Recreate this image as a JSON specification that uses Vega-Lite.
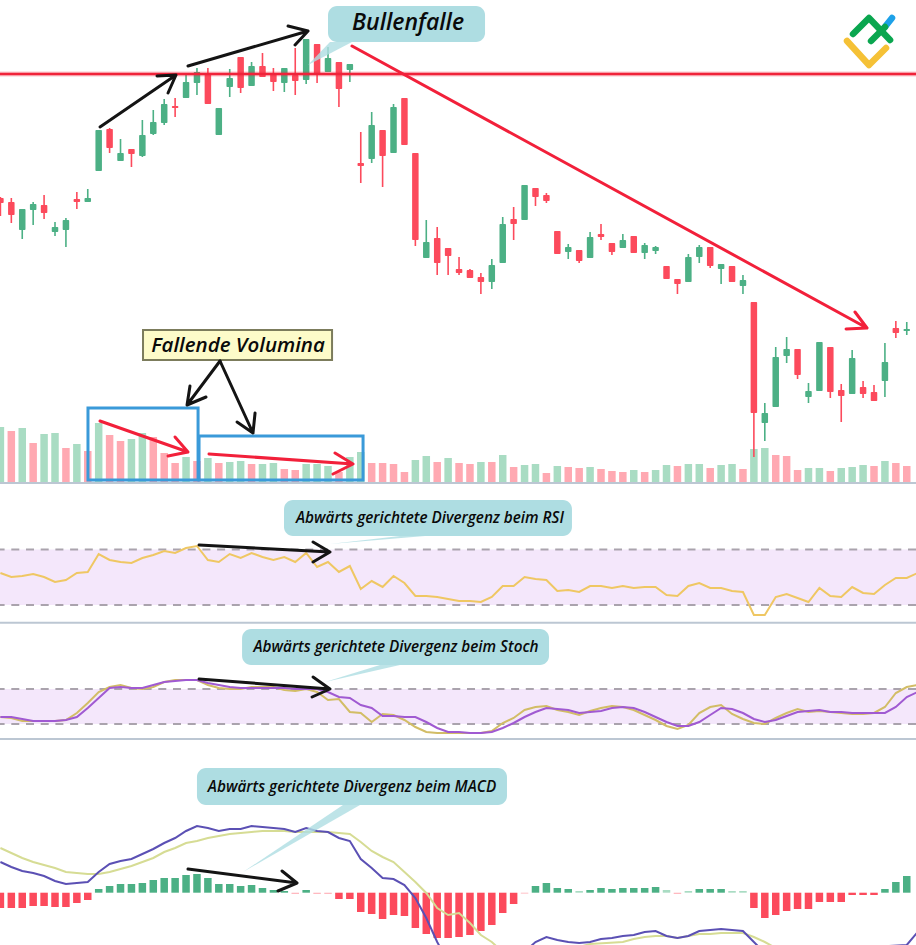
{
  "$schema": "https://vega.github.io/schema/vega-lite/v6.json",
  "width": 916,
  "height": 945,
  "padding": 0,
  "autosize": "none",
  "background": "white",
  "config": {"view": {"stroke": null}},
  "datasets": {
    "candles": [
      {"d":0,"dir":"down","hi":197,"lo":216,"top":198,"bot":203},{"d":1,"dir":"down","hi":198,"lo":223,"top":202,"bot":215},{"d":2,"dir":"up","hi":209,"lo":239,"top":209,"bot":230},{"d":3,"dir":"up","hi":202,"lo":225,"top":204,"bot":210},{"d":4,"dir":"down","hi":195,"lo":219,"top":205,"bot":213},{"d":5,"dir":"up","hi":222,"lo":236,"top":227,"bot":232},{"d":6,"dir":"up","hi":218,"lo":247,"top":220,"bot":230},{"d":7,"dir":"down","hi":192,"lo":209,"top":199,"bot":202},{"d":8,"dir":"up","hi":189,"lo":202,"top":198,"bot":202},{"d":9,"dir":"up","hi":130,"lo":171,"top":130,"bot":171},
      {"d":10,"dir":"down","hi":128,"lo":153,"top":129,"bot":148},{"d":11,"dir":"up","hi":139,"lo":161,"top":153,"bot":161},{"d":12,"dir":"down","hi":149,"lo":167,"top":149,"bot":154},{"d":13,"dir":"up","hi":120,"lo":157,"top":135,"bot":156},{"d":14,"dir":"up","hi":110,"lo":135,"top":122,"bot":134},{"d":15,"dir":"up","hi":99,"lo":125,"top":104,"bot":123},{"d":16,"dir":"down","hi":98,"lo":117,"top":106,"bot":108},{"d":17,"dir":"up","hi":75,"lo":98,"top":82,"bot":98},{"d":18,"dir":"up","hi":68,"lo":95,"top":72,"bot":83},{"d":19,"dir":"down","hi":68,"lo":104,"top":73,"bot":104},
      {"d":20,"dir":"up","hi":108,"lo":135,"top":108,"bot":135},{"d":21,"dir":"up","hi":69,"lo":97,"top":78,"bot":87},{"d":22,"dir":"down","hi":57,"lo":93,"top":57,"bot":88},{"d":23,"dir":"up","hi":62,"lo":86,"top":66,"bot":86},{"d":24,"dir":"down","hi":53,"lo":77,"top":66,"bot":77},{"d":25,"dir":"down","hi":68,"lo":91,"top":74,"bot":82},{"d":26,"dir":"up","hi":68,"lo":92,"top":68,"bot":83},{"d":27,"dir":"down","hi":48,"lo":95,"top":75,"bot":81},{"d":28,"dir":"up","hi":39,"lo":84,"top":39,"bot":80},{"d":29,"dir":"down","hi":44,"lo":83,"top":44,"bot":75},
      {"d":30,"dir":"up","hi":47,"lo":72,"top":58,"bot":72},{"d":31,"dir":"down","hi":62,"lo":107,"top":62,"bot":89},{"d":32,"dir":"up","hi":64,"lo":82,"top":64,"bot":70},{"d":33,"dir":"down","hi":132,"lo":183,"top":163,"bot":166},{"d":34,"dir":"up","hi":112,"lo":163,"top":125,"bot":159},{"d":35,"dir":"down","hi":130,"lo":187,"top":130,"bot":156},{"d":36,"dir":"up","hi":104,"lo":153,"top":107,"bot":153},{"d":37,"dir":"down","hi":98,"lo":145,"top":98,"bot":145},{"d":38,"dir":"down","hi":153,"lo":246,"top":153,"bot":240},{"d":39,"dir":"up","hi":220,"lo":258,"top":242,"bot":258},
      {"d":40,"dir":"down","hi":227,"lo":275,"top":238,"bot":263},{"d":41,"dir":"down","hi":248,"lo":275,"top":248,"bot":256},{"d":42,"dir":"down","hi":257,"lo":275,"top":269,"bot":273},{"d":43,"dir":"down","hi":269,"lo":278,"top":270,"bot":278},{"d":44,"dir":"down","hi":273,"lo":294,"top":277,"bot":282},{"d":45,"dir":"up","hi":259,"lo":289,"top":265,"bot":282},{"d":46,"dir":"up","hi":217,"lo":263,"top":224,"bot":263},{"d":47,"dir":"down","hi":207,"lo":240,"top":219,"bot":224},{"d":48,"dir":"up","hi":185,"lo":220,"top":185,"bot":220},{"d":49,"dir":"down","hi":188,"lo":206,"top":188,"bot":197},
      {"d":50,"dir":"down","hi":193,"lo":203,"top":195,"bot":201},{"d":51,"dir":"down","hi":231,"lo":254,"top":231,"bot":254},{"d":52,"dir":"up","hi":244,"lo":259,"top":247,"bot":252},{"d":53,"dir":"down","hi":250,"lo":263,"top":250,"bot":261},{"d":54,"dir":"up","hi":232,"lo":258,"top":237,"bot":258},{"d":55,"dir":"down","hi":224,"lo":240,"top":234,"bot":237},{"d":56,"dir":"down","hi":243,"lo":255,"top":243,"bot":252},{"d":57,"dir":"up","hi":234,"lo":248,"top":240,"bot":248},{"d":58,"dir":"down","hi":236,"lo":253,"top":236,"bot":253},{"d":59,"dir":"up","hi":243,"lo":259,"top":245,"bot":253},
      {"d":60,"dir":"up","hi":246,"lo":254,"top":247,"bot":251},{"d":61,"dir":"down","hi":266,"lo":279,"top":266,"bot":279},{"d":62,"dir":"down","hi":279,"lo":294,"top":279,"bot":284},{"d":63,"dir":"up","hi":254,"lo":282,"top":257,"bot":282},{"d":64,"dir":"up","hi":245,"lo":263,"top":247,"bot":257},{"d":65,"dir":"down","hi":247,"lo":268,"top":247,"bot":266},{"d":66,"dir":"up","hi":264,"lo":284,"top":264,"bot":269},{"d":67,"dir":"down","hi":266,"lo":282,"top":266,"bot":282},{"d":68,"dir":"up","hi":275,"lo":294,"top":280,"bot":286},{"d":69,"dir":"down","hi":302,"lo":457,"top":302,"bot":413},
      {"d":70,"dir":"up","hi":403,"lo":441,"top":413,"bot":423},{"d":71,"dir":"up","hi":347,"lo":407,"top":357,"bot":407},{"d":72,"dir":"up","hi":337,"lo":363,"top":349,"bot":356},{"d":73,"dir":"down","hi":349,"lo":379,"top":349,"bot":375},{"d":74,"dir":"up","hi":383,"lo":403,"top":391,"bot":397},{"d":75,"dir":"up","hi":342,"lo":391,"top":342,"bot":391},{"d":76,"dir":"down","hi":347,"lo":398,"top":347,"bot":392},{"d":77,"dir":"down","hi":384,"lo":422,"top":390,"bot":396},{"d":78,"dir":"up","hi":350,"lo":394,"top":358,"bot":394},{"d":79,"dir":"down","hi":381,"lo":398,"top":387,"bot":394},
      {"d":80,"dir":"down","hi":385,"lo":401,"top":392,"bot":401},{"d":81,"dir":"up","hi":343,"lo":397,"top":362,"bot":381},{"d":82,"dir":"down","hi":321,"lo":338,"top":328,"bot":333},{"d":83,"dir":"up","hi":322,"lo":335,"top":329,"bot":331}
    ],
    "volume": [
      {"d":0,"v":427,"dir":"volUp"},{"d":1,"v":431,"dir":"volDown"},{"d":2,"v":428,"dir":"volUp"},{"d":3,"v":443,"dir":"volDown"},{"d":4,"v":434,"dir":"volUp"},{"d":5,"v":433,"dir":"volUp"},{"d":6,"v":448,"dir":"volDown"},{"d":7,"v":444,"dir":"volUp"},{"d":8,"v":451,"dir":"volDown"},{"d":9,"v":423,"dir":"volUp"},
      {"d":10,"v":435,"dir":"volDown"},{"d":11,"v":441,"dir":"volDown"},{"d":12,"v":439,"dir":"volUp"},{"d":13,"v":433,"dir":"volUp"},{"d":14,"v":437,"dir":"volDown"},{"d":15,"v":453,"dir":"volDown"},{"d":16,"v":463,"dir":"volDown"},{"d":17,"v":457,"dir":"volUp"},{"d":18,"v":461,"dir":"volDown"},{"d":19,"v":458,"dir":"volUp"},
      {"d":20,"v":463,"dir":"volDown"},{"d":21,"v":462,"dir":"volUp"},{"d":22,"v":461,"dir":"volUp"},{"d":23,"v":464,"dir":"volDown"},{"d":24,"v":464,"dir":"volUp"},{"d":25,"v":463,"dir":"volUp"},{"d":26,"v":469,"dir":"volDown"},{"d":27,"v":470,"dir":"volDown"},{"d":28,"v":464,"dir":"volUp"},{"d":29,"v":464,"dir":"volUp"},
      {"d":30,"v":466,"dir":"volUp"},{"d":31,"v":472,"dir":"volDown"},{"d":32,"v":457,"dir":"volUp"},{"d":33,"v":452,"dir":"volUp"},{"d":34,"v":463,"dir":"volDown"},{"d":35,"v":463,"dir":"volDown"},{"d":36,"v":464,"dir":"volDown"},{"d":37,"v":472,"dir":"volDown"},{"d":38,"v":460,"dir":"volUp"},{"d":39,"v":456,"dir":"volUp"},
      {"d":40,"v":462,"dir":"volDown"},{"d":41,"v":458,"dir":"volUp"},{"d":42,"v":463,"dir":"volDown"},{"d":43,"v":464,"dir":"volDown"},{"d":44,"v":462,"dir":"volUp"},{"d":45,"v":462,"dir":"volDown"},{"d":46,"v":455,"dir":"volUp"},{"d":47,"v":467,"dir":"volDown"},{"d":48,"v":465,"dir":"volUp"},{"d":49,"v":464,"dir":"volUp"},
      {"d":50,"v":473,"dir":"volDown"},{"d":51,"v":466,"dir":"volUp"},{"d":52,"v":467,"dir":"volDown"},{"d":53,"v":468,"dir":"volDown"},{"d":54,"v":467,"dir":"volUp"},{"d":55,"v":469,"dir":"volDown"},{"d":56,"v":471,"dir":"volDown"},{"d":57,"v":472,"dir":"volDown"},{"d":58,"v":470,"dir":"volUp"},{"d":59,"v":472,"dir":"volDown"},
      {"d":60,"v":470,"dir":"volUp"},{"d":61,"v":465,"dir":"volUp"},{"d":62,"v":466,"dir":"volDown"},{"d":63,"v":464,"dir":"volUp"},{"d":64,"v":464,"dir":"volUp"},{"d":65,"v":468,"dir":"volDown"},{"d":66,"v":465,"dir":"volUp"},{"d":67,"v":464,"dir":"volUp"},{"d":68,"v":469,"dir":"volDown"},{"d":69,"v":449,"dir":"volUp"},
      {"d":70,"v":448,"dir":"volUp"},{"d":71,"v":455,"dir":"volDown"},{"d":72,"v":456,"dir":"volDown"},{"d":73,"v":470,"dir":"volDown"},{"d":74,"v":468,"dir":"volUp"},{"d":75,"v":468,"dir":"volUp"},{"d":76,"v":471,"dir":"volDown"},{"d":77,"v":468,"dir":"volUp"},{"d":78,"v":467,"dir":"volUp"},{"d":79,"v":465,"dir":"volUp"},
      {"d":80,"v":466,"dir":"volDown"},{"d":81,"v":461,"dir":"volUp"},{"d":82,"v":463,"dir":"volDown"},{"d":83,"v":466,"dir":"volDown"}
    ],
    "rsi": [
      {"d":0,"v":573},{"d":1,"v":577},{"d":2,"v":576},{"d":3,"v":574},{"d":4,"v":577},{"d":5,"v":582},{"d":6,"v":580},{"d":7,"v":573},{"d":8,"v":572},{"d":9,"v":554},{"d":10,"v":560},{"d":11,"v":562},{"d":12,"v":563},{"d":13,"v":558},{"d":14,"v":555},{"d":15,"v":551},{"d":16,"v":553},{"d":17,"v":548},{"d":18,"v":546},{"d":19,"v":560},{"d":20,"v":562},{"d":21,"v":554},{"d":22,"v":558},{"d":23,"v":553},{"d":24,"v":557},{"d":25,"v":560},{"d":26,"v":557},{"d":27,"v":562},{"d":28,"v":553},{"d":29,"v":567},{"d":30,"v":562},{"d":31,"v":572},{"d":32,"v":566},{"d":33,"v":589},{"d":34,"v":581},{"d":35,"v":587},{"d":36,"v":576},{"d":37,"v":583},{"d":38,"v":596},{"d":39,"v":596},{"d":40,"v":597},{"d":41,"v":599},{"d":42,"v":601},{"d":43,"v":601},{"d":44,"v":602},{"d":45,"v":597},{"d":46,"v":586},{"d":47,"v":586},{"d":48,"v":577},{"d":49,"v":579},{"d":50,"v":580},{"d":51,"v":591},{"d":52,"v":590},{"d":53,"v":592},{"d":54,"v":586},{"d":55,"v":586},{"d":56,"v":588},{"d":57,"v":586},{"d":58,"v":588},{"d":59,"v":587},{"d":60,"v":587},{"d":61,"v":595},{"d":62,"v":596},{"d":63,"v":586},{"d":64,"v":583},{"d":65,"v":588},{"d":66,"v":588},{"d":67,"v":591},{"d":68,"v":592},{"d":69,"v":615},{"d":70,"v":615},{"d":71,"v":597},{"d":72,"v":594},{"d":73,"v":598},{"d":74,"v":602},{"d":75,"v":588},{"d":76,"v":596},{"d":77,"v":597},{"d":78,"v":587},{"d":79,"v":593},{"d":80,"v":594},{"d":81,"v":585},{"d":82,"v":578},{"d":83,"v":578},{"d":84,"v":573}
    ],
    "stoch": [
      {"d":0,"k":717,"s":717},{"d":1,"k":718,"s":717},{"d":2,"k":721,"s":719},{"d":3,"k":721,"s":721},{"d":4,"k":721,"s":721},{"d":5,"k":721,"s":721},{"d":6,"k":720,"s":720},{"d":7,"k":713,"s":717},{"d":8,"k":703,"s":708},{"d":9,"k":692,"s":698},{"d":10,"k":687,"s":688},{"d":11,"k":685,"s":687},{"d":12,"k":688,"s":688},{"d":13,"k":689,"s":688},{"d":14,"k":687,"s":685},{"d":15,"k":682,"s":682},{"d":16,"k":680,"s":681},{"d":17,"k":680,"s":680},{"d":18,"k":680,"s":680},{"d":19,"k":685,"s":683},{"d":20,"k":688,"s":685},{"d":21,"k":689,"s":687},{"d":22,"k":689,"s":688},{"d":23,"k":687,"s":688},{"d":24,"k":687,"s":688},{"d":25,"k":687,"s":688},{"d":26,"k":690,"s":688},{"d":27,"k":691,"s":689},{"d":28,"k":689,"s":689},{"d":29,"k":692,"s":689},{"d":30,"k":700,"s":692},{"d":31,"k":699,"s":697},{"d":32,"k":712,"s":698},{"d":33,"k":713,"s":705},{"d":34,"k":722,"s":708},{"d":35,"k":714,"s":716},{"d":36,"k":715,"s":716},{"d":37,"k":720,"s":717},{"d":38,"k":727,"s":717},{"d":39,"k":732,"s":722},{"d":40,"k":733,"s":728},{"d":41,"k":733,"s":732},
      {"d":42,"k":733,"s":732},{"d":43,"k":733,"s":733},{"d":44,"k":733,"s":733},{"d":45,"k":731,"s":732},{"d":46,"k":723,"s":728},{"d":47,"k":718,"s":723},{"d":48,"k":710,"s":717},{"d":49,"k":707,"s":712},{"d":50,"k":706,"s":708},{"d":51,"k":710,"s":709},{"d":52,"k":712,"s":710},{"d":53,"k":715,"s":713},{"d":54,"k":711,"s":712},{"d":55,"k":708,"s":711},{"d":56,"k":706,"s":708},{"d":57,"k":707,"s":707},{"d":58,"k":710,"s":708},{"d":59,"k":715,"s":712},{"d":60,"k":720,"s":717},{"d":61,"k":726,"s":722},{"d":62,"k":729,"s":726},{"d":63,"k":725,"s":726},{"d":64,"k":713,"s":722},{"d":65,"k":707,"s":715},{"d":66,"k":705,"s":708},{"d":67,"k":714,"s":709},{"d":68,"k":719,"s":713},{"d":69,"k":723,"s":719},{"d":70,"k":724,"s":722},{"d":71,"k":718,"s":720},{"d":72,"k":713,"s":716},{"d":73,"k":709,"s":712},{"d":74,"k":712,"s":711},{"d":75,"k":711,"s":710},{"d":76,"k":712,"s":712},{"d":77,"k":713,"s":712},{"d":78,"k":714,"s":713},{"d":79,"k":714,"s":713},{"d":80,"k":713,"s":713},{"d":81,"k":707,"s":713},{"d":82,"k":693,"s":707},{"d":83,"k":687,"s":697},{"d":84,"k":685,"s":692}
    ],
    "macdLine": [
      {"d":0,"v":862},{"d":1,"v":867},{"d":2,"v":871},{"d":3,"v":873},{"d":4,"v":876},{"d":5,"v":881},{"d":6,"v":884},{"d":7,"v":883},{"d":8,"v":882},{"d":9,"v":872},{"d":10,"v":864},{"d":11,"v":861},{"d":12,"v":859},{"d":13,"v":854},{"d":14,"v":849},{"d":15,"v":843},{"d":16,"v":838},{"d":17,"v":831},{"d":18,"v":826},{"d":19,"v":828},{"d":20,"v":831},{"d":21,"v":829},{"d":22,"v":829},{"d":23,"v":826},{"d":24,"v":827},{"d":25,"v":828},{"d":26,"v":829},{"d":27,"v":832},{"d":28,"v":828},{"d":29,"v":831},{"d":30,"v":832},{"d":31,"v":838},{"d":32,"v":841},{"d":33,"v":859},{"d":34,"v":868},{"d":35,"v":878},{"d":36,"v":879},{"d":37,"v":885},{"d":38,"v":898},{"d":39,"v":918},{"d":40,"v":942},{"d":41,"v":962},
      {"d":48,"v":952},{"d":49,"v":942},{"d":50,"v":937},{"d":51,"v":940},{"d":52,"v":942},{"d":53,"v":943},{"d":54,"v":942},{"d":55,"v":939},{"d":56,"v":938},{"d":57,"v":936},{"d":58,"v":935},{"d":59,"v":932},{"d":60,"v":931},{"d":61,"v":936},{"d":62,"v":938},{"d":63,"v":936},{"d":64,"v":931},{"d":65,"v":930},{"d":66,"v":929},{"d":67,"v":930},{"d":68,"v":931},{"d":69,"v":942},{"d":70,"v":953},{"d":83,"v":945},{"d":84,"v":932}
    ],
    "macdSignal": [
      {"d":0,"v":848},{"d":1,"v":853},{"d":2,"v":858},{"d":3,"v":862},{"d":4,"v":865},{"d":5,"v":868},{"d":6,"v":872},{"d":7,"v":873},{"d":8,"v":874},{"d":9,"v":874},{"d":10,"v":872},{"d":11,"v":869},{"d":12,"v":866},{"d":13,"v":862},{"d":14,"v":858},{"d":15,"v":852},{"d":16,"v":848},{"d":17,"v":843},{"d":18,"v":841},{"d":19,"v":838},{"d":20,"v":836},{"d":21,"v":834},{"d":22,"v":833},{"d":23,"v":832},{"d":24,"v":831},{"d":25,"v":831},{"d":26,"v":831},{"d":27,"v":832},{"d":28,"v":832},{"d":29,"v":832},{"d":30,"v":832},{"d":31,"v":833},{"d":32,"v":834},{"d":33,"v":842},{"d":34,"v":851},{"d":35,"v":857},{"d":36,"v":862},{"d":37,"v":872},{"d":38,"v":882},{"d":39,"v":893},{"d":40,"v":908},{"d":41,"v":915},{"d":42,"v":913},{"d":43,"v":923},{"d":44,"v":935},{"d":45,"v":942},{"d":46,"v":952},
      {"d":53,"v":947},{"d":54,"v":944},{"d":57,"v":942},{"d":58,"v":939},{"d":59,"v":937},{"d":60,"v":936},{"d":61,"v":936},{"d":62,"v":938},{"d":63,"v":936},{"d":64,"v":934},{"d":65,"v":934},{"d":66,"v":933},{"d":67,"v":933},{"d":68,"v":933},{"d":69,"v":937},{"d":70,"v":942},{"d":71,"v":948}
    ],
    "macdHist": [
      {"d":0,"v":908,"dir":"down"},{"d":1,"v":908,"dir":"down"},{"d":2,"v":908,"dir":"down"},{"d":3,"v":906,"dir":"down"},{"d":4,"v":906,"dir":"down"},{"d":5,"v":907,"dir":"down"},{"d":6,"v":907,"dir":"down"},{"d":7,"v":903,"dir":"down"},{"d":8,"v":900,"dir":"down"},{"d":9,"v":889,"dir":"up"},{"d":10,"v":886,"dir":"up"},{"d":11,"v":884,"dir":"up"},{"d":12,"v":884,"dir":"up"},{"d":13,"v":883,"dir":"up"},{"d":14,"v":880,"dir":"up"},{"d":15,"v":878,"dir":"up"},{"d":16,"v":878,"dir":"up"},{"d":17,"v":875,"dir":"up"},{"d":18,"v":874,"dir":"up"},{"d":19,"v":878,"dir":"up"},{"d":20,"v":884,"dir":"up"},{"d":21,"v":884,"dir":"up"},{"d":22,"v":886,"dir":"up"},{"d":23,"v":885,"dir":"up"},{"d":24,"v":888,"dir":"up"},{"d":25,"v":890,"dir":"up"},{"d":26,"v":891,"dir":"up"},{"d":27,"v":894,"dir":"paleDown"},{"d":28,"v":890,"dir":"up"},{"d":29,"v":894,"dir":"paleDown"},{"d":30,"v":894,"dir":"paleDown"},{"d":31,"v":899,"dir":"down"},{"d":32,"v":899,"dir":"down"},{"d":33,"v":912,"dir":"down"},{"d":34,"v":914,"dir":"down"},{"d":35,"v":919,"dir":"down"},{"d":36,"v":915,"dir":"down"},{"d":37,"v":916,"dir":"down"},{"d":38,"v":928,"dir":"down"},{"d":39,"v":934,"dir":"down"},{"d":40,"v":938,"dir":"down"},{"d":41,"v":938,"dir":"down"},
      {"d":42,"v":937,"dir":"down"},{"d":43,"v":935,"dir":"down"},{"d":44,"v":931,"dir":"down"},{"d":45,"v":925,"dir":"down"},{"d":46,"v":913,"dir":"down"},{"d":47,"v":904,"dir":"down"},{"d":48,"v":893.6,"dir":"paleDown"},{"d":49,"v":886,"dir":"up"},{"d":50,"v":883,"dir":"up"},{"d":51,"v":888,"dir":"up"},{"d":52,"v":889,"dir":"up"},{"d":53,"v":891,"dir":"paleUp"},{"d":54,"v":890,"dir":"up"},{"d":55,"v":888,"dir":"up"},{"d":56,"v":889,"dir":"up"},{"d":57,"v":888,"dir":"up"},{"d":58,"v":888,"dir":"up"},{"d":59,"v":888,"dir":"up"},{"d":60,"v":887,"dir":"up"},{"d":61,"v":890,"dir":"paleUp"},{"d":62,"v":894,"dir":"paleDown"},{"d":63,"v":891,"dir":"paleUp"},{"d":64,"v":889,"dir":"up"},{"d":65,"v":889,"dir":"up"},{"d":66,"v":889,"dir":"up"},{"d":67,"v":891,"dir":"paleUp"},{"d":68,"v":891,"dir":"paleUp"},{"d":69,"v":908,"dir":"down"},{"d":70,"v":918,"dir":"down"},{"d":71,"v":915,"dir":"down"},{"d":72,"v":911,"dir":"down"},{"d":73,"v":909,"dir":"down"},{"d":74,"v":909,"dir":"down"},{"d":75,"v":902,"dir":"down"},{"d":76,"v":902,"dir":"down"},{"d":77,"v":902,"dir":"down"},{"d":78,"v":895,"dir":"down"},{"d":79,"v":895,"dir":"down"},{"d":80,"v":895,"dir":"down"},{"d":81,"v":889,"dir":"up"},{"d":82,"v":882,"dir":"up"},{"d":83,"v":876,"dir":"up"}
    ],
    "bands": [{"name":"RSI","top":549.5,"bottom":605},{"name":"Stoch","top":689,"bottom":724}],
    "levels": [{"y":549.5},{"y":605},{"y":689},{"y":724}],
    "separators": [{"y":483},{"y":622.7},{"y":739}],
    "resistance": [{"y":74}],
    "volumeBoxes": [{"d":8.02,"d2":18.1,"y":408,"y2":480},{"d":18.19,"d2":33.21,"y":436,"y2":480}],
    "blackArrows": [
      {"id":"a1","o":0,"d":9.12,"y":127},{"id":"a1","o":1,"d":16.08,"y":75},{"id":"a1","o":2,"d":14.34,"y":76},{"id":"a1","o":3,"d":16.08,"y":75},{"id":"a1","o":4,"d":15.35,"y":93},
      {"id":"a2","o":0,"d":17.18,"y":66},{"id":"a2","o":1,"d":28.17,"y":31},{"id":"a2","o":2,"d":26.34,"y":26},{"id":"a2","o":3,"d":28.17,"y":31},{"id":"a2","o":4,"d":26.98,"y":45},
      {"id":"v1","o":0,"d":20.11,"y":361},{"id":"v1","o":1,"d":17.09,"y":405},{"id":"v1","o":2,"d":17.36,"y":386},{"id":"v1","o":3,"d":17.09,"y":405},{"id":"v1","o":4,"d":18.83,"y":397},
      {"id":"v2","o":0,"d":20.11,"y":361},{"id":"v2","o":1,"d":23.13,"y":433},{"id":"v2","o":2,"d":21.67,"y":422},{"id":"v2","o":3,"d":23.13,"y":433},{"id":"v2","o":4,"d":23.32,"y":413},
      {"id":"rsi","o":0,"d":18.19,"y":545},{"id":"rsi","o":1,"d":30.18,"y":552},{"id":"rsi","o":2,"d":28.63,"y":542},{"id":"rsi","o":3,"d":30.18,"y":552},{"id":"rsi","o":4,"d":28.63,"y":562},
      {"id":"st","o":0,"d":18.19,"y":679},{"id":"st","o":1,"d":30.18,"y":689},{"id":"st","o":2,"d":28.63,"y":677},{"id":"st","o":3,"d":30.18,"y":689},{"id":"st","o":4,"d":28.54,"y":697},
      {"id":"mc","o":0,"d":17.18,"y":869},{"id":"mc","o":1,"d":27.16,"y":883},{"id":"mc","o":2,"d":25.79,"y":871},{"id":"mc","o":3,"d":27.16,"y":883},{"id":"mc","o":4,"d":25.42,"y":891}
    ],
    "redArrows": [
      {"id":"r1","o":0,"d":9.12,"y":421},{"id":"r1","o":1,"d":17.18,"y":452},{"id":"r1","o":2,"d":15.99,"y":437},{"id":"r1","o":3,"d":17.18,"y":452},{"id":"r1","o":4,"d":15.35,"y":456},
      {"id":"r2","o":0,"d":19.1,"y":454},{"id":"r2","o":1,"d":32.29,"y":464},{"id":"r2","o":2,"d":30.64,"y":453},{"id":"r2","o":3,"d":32.29,"y":464},{"id":"r2","o":4,"d":30.46,"y":474},
      {"id":"big","o":0,"d":32.2,"y":46},{"id":"big","o":1,"d":79.36,"y":328},{"id":"big","o":2,"d":78.26,"y":312},{"id":"big","o":3,"d":79.36,"y":328},{"id":"big","o":4,"d":77.44,"y":329}
    ],
    "calloutBoxes": [
      {"d":30.0,"d2":44.38,"y":6,"y2":42},
      {"d":25.97,"d2":52.34,"y":500,"y2":536},
      {"d":22.13,"d2":50.24,"y":629,"y2":665},
      {"d":18.0,"d2":46.39,"y":768,"y2":805}
    ],
    "calloutTails": [
      {"id":"bull","y":42,"d":30.18,"d2":32.2},{"id":"bull","y":65,"d":28.17,"d2":28.17},
      {"id":"rsi","y":536,"d":36.59,"d2":38.88},{"id":"rsi","y":544,"d":30.18,"d2":30.18},
      {"id":"stoch","y":665,"d":34.76,"d2":36.59},{"id":"stoch","y":682,"d":29.73,"d2":29.73},
      {"id":"macd","y":805,"d":31.37,"d2":32.93},{"id":"macd","y":872,"d":22.22,"d2":22.22}
    ],
    "noteBox": [{"d":13.06,"d2":30.37,"y":330,"y2":360}],
    "bigLabels": [{"d":37.33,"y":23,"label":"Bullenfalle"}],
    "noteLabels": [{"d":21.76,"y":346,"label":"Fallende Volumina"}],
    "smallLabels": [
      {"d":39.34,"y":518,"label":"Abwärts gerichtete Divergenz beim RSI"},
      {"d":36.23,"y":647,"label":"Abwärts gerichtete Divergenz beim Stoch"},
      {"d":32.2,"y":787,"label":"Abwärts gerichtete Divergenz beim MACD"}
    ],
    "logo": [
      {"part":"logoBlue","o":0,"d":80.92,"y":28},{"part":"logoBlue","o":1,"d":81.65,"y":18},
      {"part":"logoYellow","o":0,"d":77.53,"y":41},{"part":"logoYellow","o":1,"d":79.54,"y":65},{"part":"logoYellow","o":2,"d":81.1,"y":48},
      {"part":"logoGreen","o":0,"d":78.08,"y":34},{"part":"logoGreen","o":1,"d":79.54,"y":18},{"part":"logoGreen","o":2,"d":81.47,"y":40},
      {"part":"logoGreen2","o":0,"d":79.73,"y":41},{"part":"logoGreen2","o":1,"d":81.01,"y":27}
    ]
  },
  "layer": [
    {
      "data": {"name": "bands"},
      "mark": {"type": "rect", "fill": "#f4e7fb"},
      "encoding": {
        "y": {"field": "top", "type": "quantitative", "scale": {"domain": [945, 0], "nice": false}, "axis": null},
        "y2": {"field": "bottom"}
      }
    },
    {
      "data": {"name": "levels"},
      "mark": {"type": "rule", "stroke": "#aaa3ad", "strokeWidth": 2, "strokeDash": [8, 6.7]},
      "encoding": {"y": {"field": "y", "type": "quantitative", "axis": null}}
    },
    {
      "data": {"name": "separators"},
      "mark": {"type": "rule", "stroke": "#bcc7d3", "strokeWidth": 2},
      "encoding": {"y": {"field": "y", "type": "quantitative", "axis": null}}
    },
    {
      "data": {"name": "volume"},
      "mark": {"type": "bar", "size": 7.5, "orient": "vertical"},
      "encoding": {
        "x": {"field": "d", "type": "quantitative", "scale": {"domain": [-0.037, 83.846], "nice": false, "zero": false, "padding": 0}, "axis": null},
        "y": {"field": "v", "type": "quantitative", "axis": null},
        "y2": {"datum": 482},
        "color": {
          "field": "dir",
          "type": "nominal",
          "legend": null,
          "scale": {
            "domain": ["up", "down", "volUp", "volDown", "paleUp", "paleDown", "logoYellow", "logoBlue", "logoGreen", "logoGreen2"],
            "range": ["#4cb085", "#fc4a5c", "#a9dcc3", "#ffa9b2", "#a9dcc3", "#ffb9c0", "#f5c136", "#1da1e8", "#0aa64f", "#0aa64f"]
          }
        }
      }
    },
    {
      "data": {"name": "candles"},
      "mark": {"type": "rule", "strokeWidth": 1.6},
      "encoding": {
        "x": {"field": "d", "type": "quantitative", "axis": null},
        "y": {"field": "hi", "type": "quantitative", "axis": null},
        "y2": {"field": "lo"},
        "color": {"field": "dir", "type": "nominal", "legend": null}
      }
    },
    {
      "data": {"name": "candles"},
      "mark": {"type": "bar", "size": 6.5, "orient": "vertical", "cornerRadius": 1},
      "encoding": {
        "x": {"field": "d", "type": "quantitative", "axis": null},
        "y": {"field": "top", "type": "quantitative", "axis": null},
        "y2": {"field": "bot"},
        "color": {"field": "dir", "type": "nominal", "legend": null}
      }
    },
    {
      "data": {"name": "macdHist"},
      "mark": {"type": "bar", "size": 7.5, "orient": "vertical"},
      "encoding": {
        "x": {"field": "d", "type": "quantitative", "axis": null},
        "y": {"field": "v", "type": "quantitative", "axis": null},
        "y2": {"datum": 892.7},
        "color": {"field": "dir", "type": "nominal", "legend": null}
      }
    },
    {
      "data": {"name": "rsi"},
      "mark": {"type": "line", "stroke": "#efc763", "strokeWidth": 2, "clip": true},
      "encoding": {
        "x": {"field": "d", "type": "quantitative", "axis": null},
        "y": {"field": "v", "type": "quantitative", "axis": null}
      }
    },
    {
      "data": {"name": "stoch"},
      "mark": {"type": "line", "stroke": "#d2bd66", "strokeWidth": 2, "clip": true},
      "encoding": {
        "x": {"field": "d", "type": "quantitative", "axis": null},
        "y": {"field": "k", "type": "quantitative", "axis": null}
      }
    },
    {
      "data": {"name": "stoch"},
      "mark": {"type": "line", "stroke": "#a05ad2", "strokeWidth": 2, "clip": true},
      "encoding": {
        "x": {"field": "d", "type": "quantitative", "axis": null},
        "y": {"field": "s", "type": "quantitative", "axis": null}
      }
    },
    {
      "data": {"name": "macdSignal"},
      "mark": {"type": "line", "stroke": "#d6dc94", "strokeWidth": 2, "clip": true},
      "encoding": {
        "x": {"field": "d", "type": "quantitative", "axis": null},
        "y": {"field": "v", "type": "quantitative", "axis": null}
      }
    },
    {
      "data": {"name": "macdLine"},
      "mark": {"type": "line", "stroke": "#5b50b4", "strokeWidth": 2, "clip": true},
      "encoding": {
        "x": {"field": "d", "type": "quantitative", "axis": null},
        "y": {"field": "v", "type": "quantitative", "axis": null}
      }
    },
    {
      "data": {"name": "resistance"},
      "mark": {"type": "rule", "stroke": "#f0233a", "strokeWidth": 5, "opacity": 0.25},
      "encoding": {"y": {"field": "y", "type": "quantitative", "axis": null}}
    },
    {
      "data": {"name": "resistance"},
      "mark": {"type": "rule", "stroke": "#f0233a", "strokeWidth": 2.5},
      "encoding": {"y": {"field": "y", "type": "quantitative", "axis": null}}
    },
    {
      "data": {"name": "volumeBoxes"},
      "mark": {"type": "rect", "fillOpacity": 0, "stroke": "#3a9ad9", "strokeWidth": 3},
      "encoding": {
        "x": {"field": "d", "type": "quantitative", "axis": null},
        "x2": {"field": "d2"},
        "y": {"field": "y", "type": "quantitative", "axis": null},
        "y2": {"field": "y2"}
      }
    },
    {
      "data": {"name": "calloutTails"},
      "mark": {"type": "area", "orient": "horizontal", "fill": "#aedde2", "opacity": 0.8},
      "encoding": {
        "x": {"field": "d", "type": "quantitative", "axis": null},
        "x2": {"field": "d2"},
        "y": {"field": "y", "type": "quantitative", "axis": null},
        "detail": {"field": "id"}
      }
    },
    {
      "data": {"name": "calloutBoxes"},
      "mark": {"type": "rect", "fill": "#aedde2", "cornerRadius": 9},
      "encoding": {
        "x": {"field": "d", "type": "quantitative", "axis": null},
        "x2": {"field": "d2"},
        "y": {"field": "y", "type": "quantitative", "axis": null},
        "y2": {"field": "y2"}
      }
    },
    {
      "data": {"name": "noteBox"},
      "mark": {"type": "rect", "fill": "#fdfbc9", "stroke": "#7c7c5c", "strokeWidth": 2},
      "encoding": {
        "x": {"field": "d", "type": "quantitative", "axis": null},
        "x2": {"field": "d2"},
        "y": {"field": "y", "type": "quantitative", "axis": null},
        "y2": {"field": "y2"}
      }
    },
    {
      "data": {"name": "blackArrows"},
      "mark": {"type": "line", "stroke": "#141414", "strokeWidth": 3, "strokeJoin": "round", "strokeCap": "round"},
      "encoding": {
        "x": {"field": "d", "type": "quantitative", "axis": null},
        "y": {"field": "y", "type": "quantitative", "axis": null},
        "detail": {"field": "id"},
        "order": {"field": "o"}
      }
    },
    {
      "data": {"name": "redArrows"},
      "mark": {"type": "line", "stroke": "#f2203a", "strokeWidth": 3, "strokeJoin": "round", "strokeCap": "round"},
      "encoding": {
        "x": {"field": "d", "type": "quantitative", "axis": null},
        "y": {"field": "y", "type": "quantitative", "axis": null},
        "detail": {"field": "id"},
        "order": {"field": "o"}
      }
    },
    {
      "data": {"name": "logo"},
      "mark": {"type": "line", "strokeWidth": 6.5, "strokeJoin": "round", "strokeCap": "round"},
      "encoding": {
        "x": {"field": "d", "type": "quantitative", "axis": null},
        "y": {"field": "y", "type": "quantitative", "axis": null},
        "color": {"field": "part", "type": "nominal", "legend": null},
        "order": {"field": "o"}
      }
    },
    {
      "data": {"name": "bigLabels"},
      "mark": {"type": "text", "font": "Open Sans", "fontStyle": "italic", "fontWeight": 600, "fontSize": 23, "fill": "#0a0a0a", "align": "center", "baseline": "middle"},
      "encoding": {
        "x": {"field": "d", "type": "quantitative", "axis": null},
        "y": {"field": "y", "type": "quantitative", "axis": null},
        "text": {"field": "label"}
      }
    },
    {
      "data": {"name": "noteLabels"},
      "mark": {"type": "text", "font": "Open Sans", "fontStyle": "italic", "fontWeight": 600, "fontSize": 20.5, "fill": "#0a0a0a", "align": "center", "baseline": "middle"},
      "encoding": {
        "x": {"field": "d", "type": "quantitative", "axis": null},
        "y": {"field": "y", "type": "quantitative", "axis": null},
        "text": {"field": "label"}
      }
    },
    {
      "data": {"name": "smallLabels"},
      "mark": {"type": "text", "font": "Open Sans", "fontStyle": "italic", "fontWeight": 600, "fontSize": 15.3, "fill": "#0a0a0a", "align": "center", "baseline": "middle"},
      "encoding": {
        "x": {"field": "d", "type": "quantitative", "axis": null},
        "y": {"field": "y", "type": "quantitative", "axis": null},
        "text": {"field": "label"}
      }
    }
  ]
}
